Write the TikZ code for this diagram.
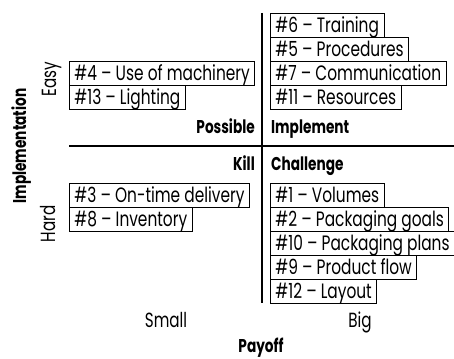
\documentclass[tikz,border=0pt]{standalone}
\usepackage{fontspec}
\setmainfont{Poppins}[FakeStretch=0.74]
\begin{document}
\begin{tikzpicture}[x=1pt,y=-1pt,
  item/.style={draw,line width=0.9pt,anchor=north west,text height=19.5pt,text depth=4.5pt,inner xsep=5pt,inner ysep=0pt,font=\fontsize{20.8}{22}\selectfont},
  lab/.style={font=\fontsize{20.5}{22}\selectfont,inner sep=0pt,anchor=base},
  blab/.style={font=\bfseries\fontsize{18.5}{21}\selectfont,inner sep=0pt,anchor=base},
  axis/.style={line width=1.2pt}]
\useasboundingbox (0,0) rectangle (454,358);
% axes
\coordinate (vt) at (262,13);
\coordinate (vb) at (262,303);
\coordinate (hl) at (69,146);
\coordinate (hr) at (454,146);
\draw[axis] (vt) -- (vb);
\draw[axis] (hl) -- (hr);
% top-left
\node[item] (b4) at (69,61) {\#4 – Use of machinery};
\node[item] (b13) at (69,85) {\#13 – Lighting};
% top-right
\node[item] (b6) at (270,13) {\#6 – Training};
\node[item] (b5) at (270,37) {\#5 – Procedures};
\node[item] (b7) at (270,61) {\#7 – Communication};
\node[item] (b11) at (270,85) {\#11 – Resources};
% bottom-left
\node[item] (b3) at (69,183) {\#3 – On-time delivery};
\node[item] (b8) at (69,207) {\#8 – Inventory};
% bottom-right
\node[item] (b1) at (270,183) {\#1 – Volumes};
\node[item] (b2) at (270,207) {\#2 – Packaging goals};
\node[item] (b10) at (270,231) {\#10 – Packaging plans};
\node[item] (b9) at (270,255) {\#9 – Product flow};
\node[item] (b12) at (270,279) {\#12 – Layout};
% quadrant labels
\node[blab,anchor=base east] (poss) at (255,133) {Possible};
\node[blab,anchor=base west] (impl) at (271,133) {Implement};
\node[blab,anchor=base east] (kill) at (255,170) {Kill};
\node[blab,anchor=base west] (chal) at (271,170) {Challenge};
% axis labels
\node[lab,rotate=90] (easy) at (56,79.5) {Easy};
\node[lab,rotate=90] (hard) at (55,224) {Hard};
\node[blab,rotate=90] (implementation) at (26,146) {Implementation};
\node[lab] (small) at (166,327) {Small};
\node[lab] (big) at (360,327) {Big};
\node[blab] (payoff) at (261,352) {Payoff};
\end{tikzpicture}
\end{document}
